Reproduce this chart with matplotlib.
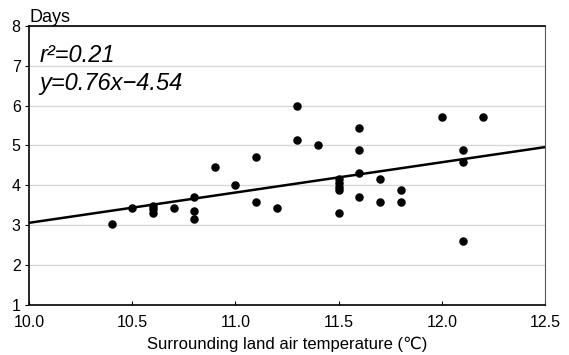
import numpy as np
import matplotlib
matplotlib.use("Agg")
import matplotlib.pyplot as plt

plt.rcParams['font.family'] = ['Liberation Sans', 'DejaVu Sans']

# Surrounding land air temperature (deg C) vs days
temp = [10.4, 10.5, 10.6, 10.6, 10.6, 10.7, 10.8, 10.8, 10.8, 10.9,
        11.0, 11.1, 11.1, 11.2, 11.3, 11.3, 11.4,
        11.5, 11.5, 11.5, 11.5, 11.5,
        11.6, 11.6, 11.6, 11.6, 11.7, 11.7, 11.8, 11.8,
        12.0, 12.1, 12.1, 12.1, 12.2]
days = [3.02, 3.43, 3.48, 3.40, 3.30, 3.43, 3.72, 3.35, 3.15, 4.45,
        4.00, 3.58, 4.72, 3.43, 6.00, 5.15, 5.00,
        4.15, 4.05, 3.95, 3.88, 3.30,
        5.43, 4.88, 4.30, 3.72, 4.15, 3.58, 3.88, 3.58,
        5.72, 4.88, 4.58, 2.60, 5.72]

slope, intercept = 0.76, -4.54
r2 = 0.21

fig = plt.figure(figsize=(5.69, 3.55), dpi=100)
ax = fig.add_axes([0.051, 0.141, 0.907, 0.786])

ax.scatter(temp, days, s=26, color='black', zorder=3)

xfit = np.array([10.0, 12.5])
ax.plot(xfit, slope * xfit + intercept, color='black', lw=1.8, zorder=2)

ax.set_xlim(10.0, 12.5)
ax.set_ylim(1, 8)
ax.set_xticks(np.arange(10.0, 12.51, 0.5))
ax.set_xticklabels([f"{v:.1f}" for v in np.arange(10.0, 12.51, 0.5)])
ax.set_yticks(range(1, 9))
ax.yaxis.grid(True, color='#d8d8d8', lw=1)
ax.set_axisbelow(True)

ax.tick_params(axis='x', direction='in', length=3, labelsize=11.5, pad=7)
ax.tick_params(axis='y', direction='out', length=3, labelsize=11.5, pad=3)
for s in ['left', 'bottom', 'top']:
    ax.spines[s].set_color('black')
    ax.spines[s].set_linewidth(1.2)
ax.spines['right'].set_color('#555555')

ax.set_xlabel('Surrounding land air temperature (℃)', fontsize=12, labelpad=5)
ax.text(0.0, 1.0, 'Days', transform=ax.transAxes, fontsize=13,
        ha='left', va='bottom')

ax.text(0.02, 0.895, f'r\u00b2={r2:.2f}', transform=ax.transAxes,
        fontsize=17, style='italic', va='center')
ax.text(0.02, 0.795, f'y={slope:.2f}x\u2212{abs(intercept):.2f}', transform=ax.transAxes,
        fontsize=17, style='italic', va='center')

fig.savefig('out.png', dpi=100)
